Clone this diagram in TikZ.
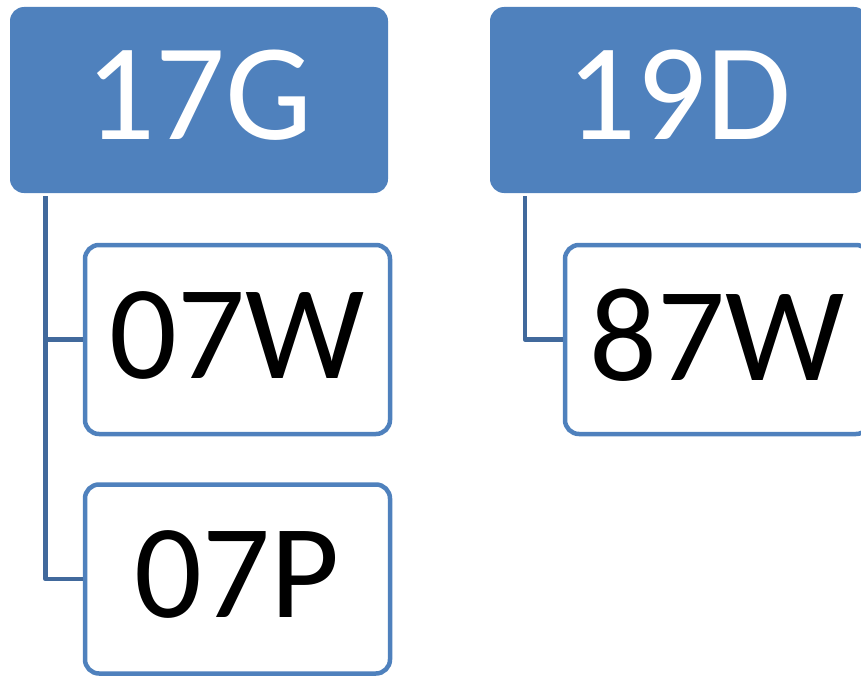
\documentclass[tikz,border=0pt]{standalone}
\usepackage{fontspec}
\setmainfont{Carlito}
\definecolor{accent}{HTML}{4F81BD}
\definecolor{conn}{HTML}{41699C}
\begin{document}
\begin{tikzpicture}[x=1pt,y=-1pt,
  parentbox/.style={fill=accent, rounded corners=14pt, minimum width=378pt, minimum height=186pt,
    inner sep=0pt, text=white, font=\fontsize{138}{166}\selectfont, text depth=10pt},
  childbox/.style={draw=accent, line width=4.5pt, fill=white, rounded corners=14pt,
    minimum width=305pt, minimum height=189pt, inner sep=0pt, text=black,
    font=\fontsize{134}{160}\selectfont, text depth=9pt},
  link/.style={draw=conn, line width=4.5pt, line join=round}]
\useasboundingbox (0,0) rectangle (861,677);
\node[parentbox] (p1) at (199,100) {17G};
\node[parentbox] (p2) at (679,100) {19D};
\node[childbox] (c1) at (237.5,339.5) {07W};
\node[childbox] (c2) at (237.5,579) {07P};
\node[childbox] (c3) at (717.5,339.5) {87W};
\draw[link] ([xshift=-153.5pt,yshift=-3pt]p1.south) |- (c1.west);
\draw[link] ([xshift=-153.5pt,yshift=-3pt]p1.south) |- (c2.west);
\draw[link] ([xshift=-154pt,yshift=-3pt]p2.south) |- (c3.west);
\end{tikzpicture}
\end{document}
